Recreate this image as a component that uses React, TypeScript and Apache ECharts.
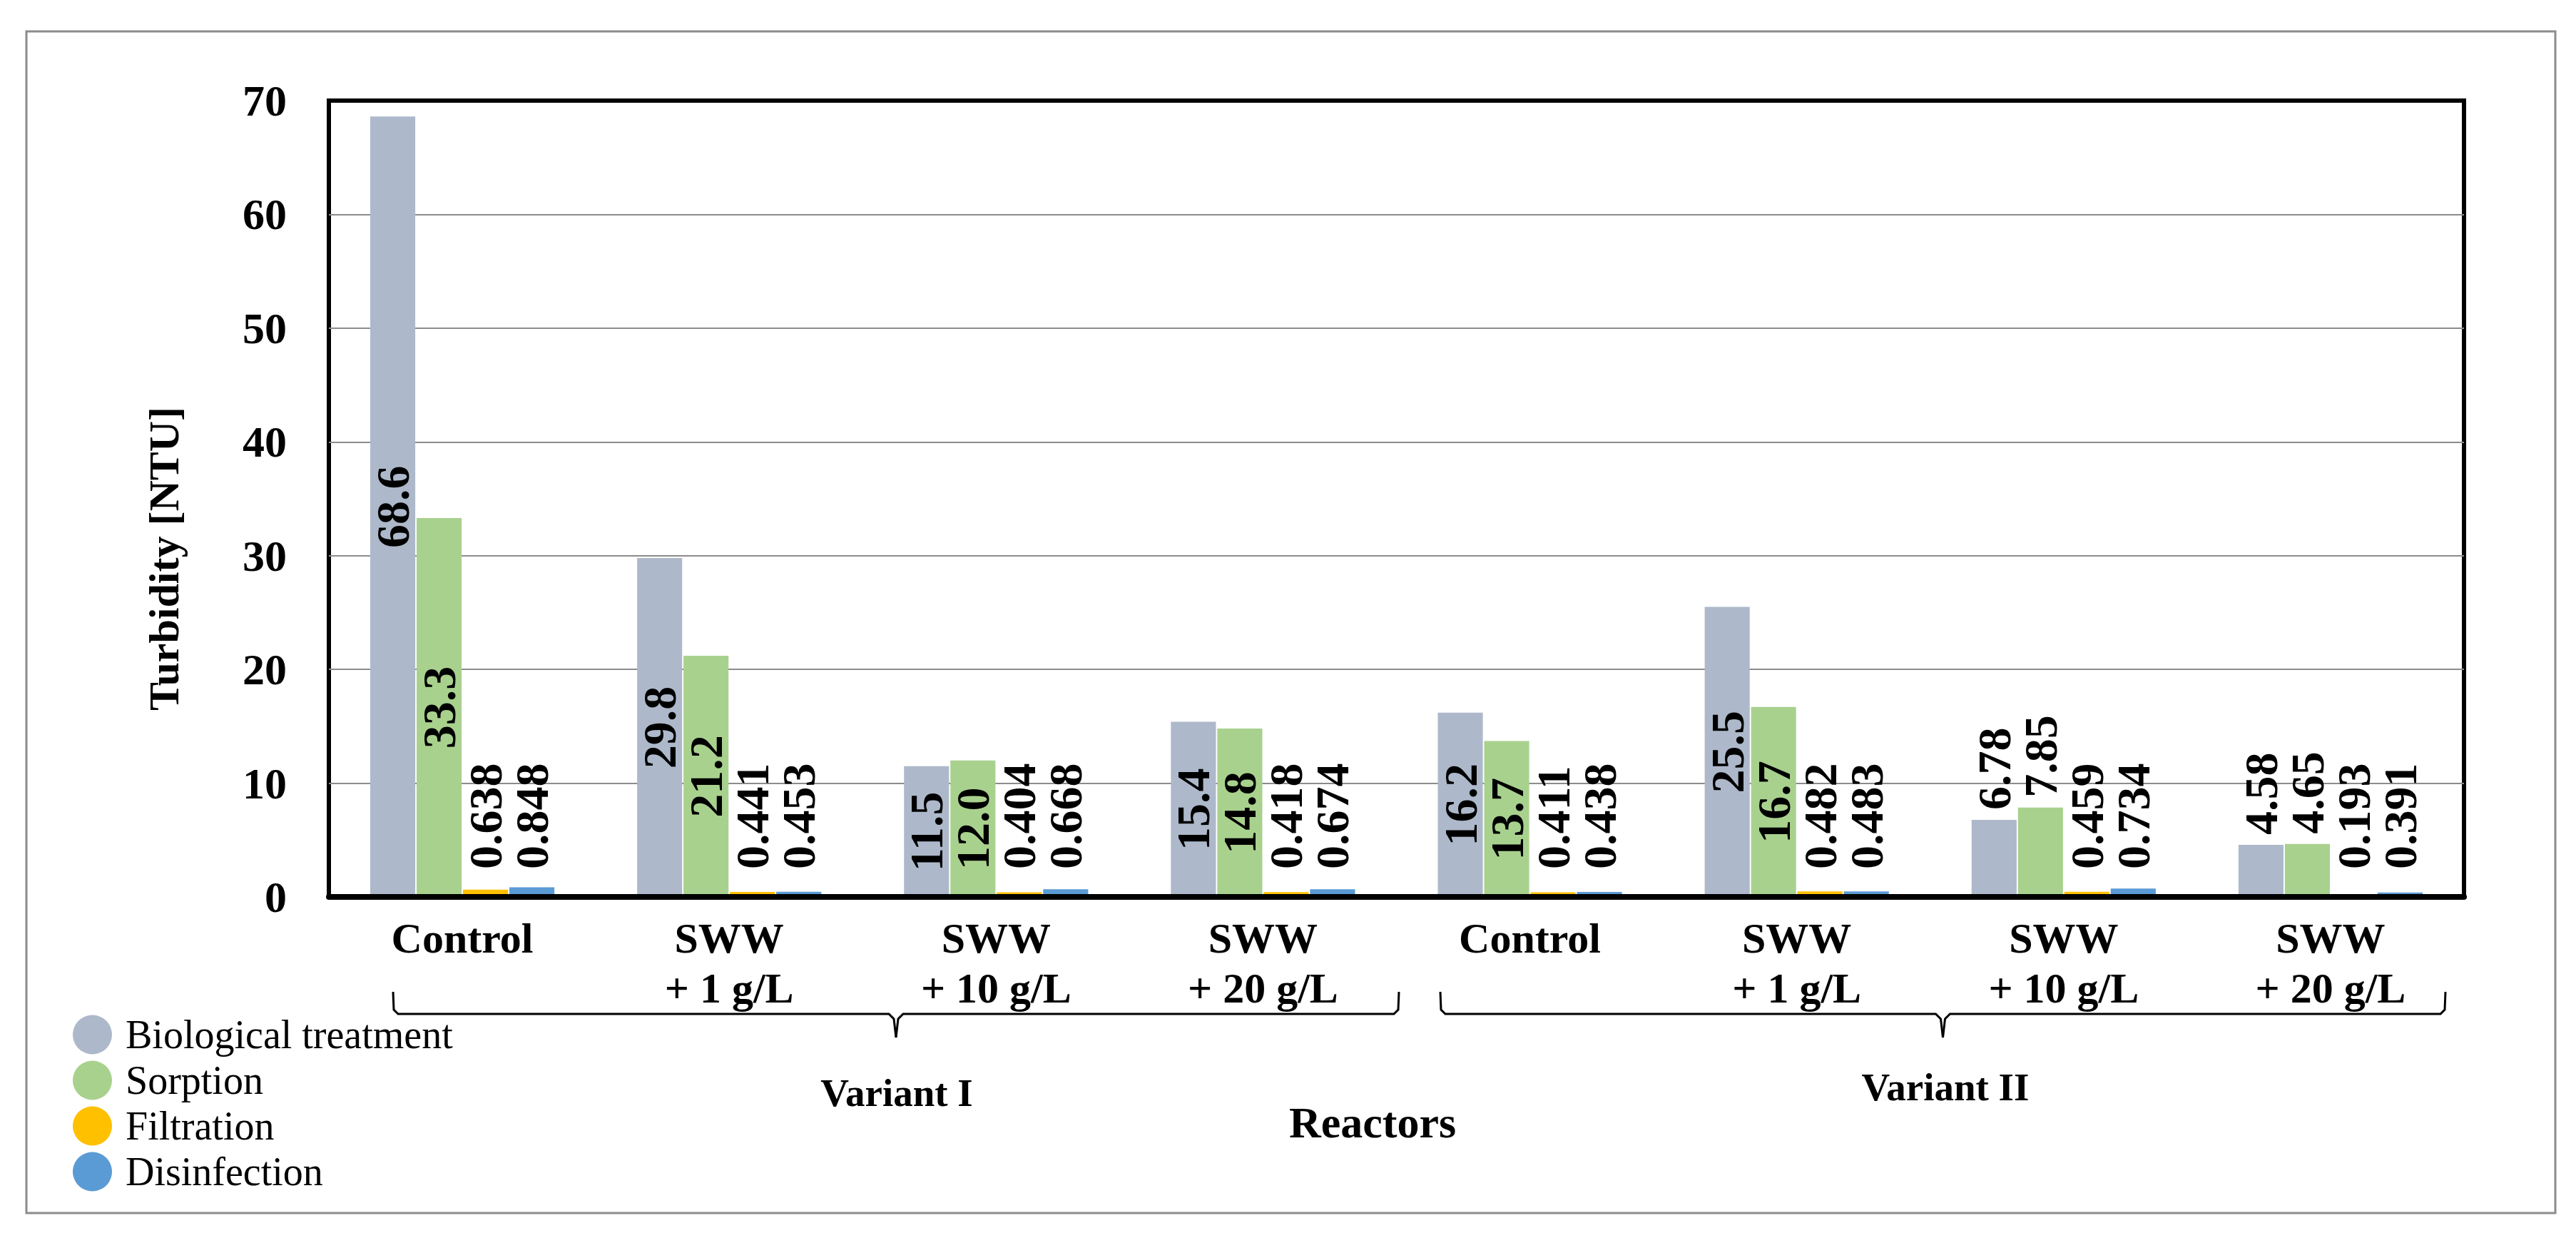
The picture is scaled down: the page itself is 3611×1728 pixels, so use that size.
import React, { useEffect, useRef } from 'react';
import * as echarts from 'echarts';

// Reactor categories (two variants of four reactors each)
const categories = [
  'Control',
  'SWW\n+ 1 g/L',
  'SWW\n+ 10 g/L',
  'SWW\n+ 20 g/L',
  'Control',
  'SWW\n+ 1 g/L',
  'SWW\n+ 10 g/L',
  'SWW\n+ 20 g/L',
];

const seriesNames = ['Biological treatment', 'Sorption', 'Filtration', 'Disinfection'];

// Turbidity after each treatment stage [NTU]
const biological = [68.6, 29.8, 11.5, 15.4, 16.2, 25.5, 6.78, 4.58];
const sorption = [33.3, 21.2, 12.0, 14.8, 13.7, 16.7, 7.85, 4.65];
const filtration = [0.638, 0.441, 0.404, 0.418, 0.411, 0.482, 0.459, 0.193];
const disinfection = [0.848, 0.453, 0.668, 0.674, 0.438, 0.483, 0.734, 0.391];

const yMin = 0;
const yMax = 70;
const yStep = 10;

const variantLabels = ['Variant I', 'Variant II'];
const xTitle = 'Reactors';
const yTitle = 'Turbidity [NTU]';

const colors = ['#ADB9CA', '#A9D18E', '#FFC000', '#5B9BD5'];
const FONT = 'Liberation Serif';

const W = 3611;
const H = 1728;

// plot rectangle in pixels
const PLOT_LEFT = 461;
const PLOT_TOP = 141;
const PLOT_RIGHT = 3454;
const PLOT_BOTTOM = 1257;

const fmt = (p: any) => Number(p.value).toPrecision(3);

const labelText = {
  color: '#000',
  fontFamily: FONT,
  fontWeight: 'bold' as const,
  fontSize: 66,
  textBorderWidth: 0,
  formatter: fmt,
};

const centred = {
  show: true,
  position: 'inside',
  rotate: 90,
  align: 'center',
  verticalAlign: 'middle',
  ...labelText,
};

const aboveBar = {
  show: true,
  position: 'top',
  distance: 14,
  rotate: 90,
  align: 'left',
  verticalAlign: 'middle',
  ...labelText,
};

const fromBase = {
  show: true,
  position: 'insideBottom',
  distance: 39,
  rotate: 90,
  align: 'left',
  verticalAlign: 'middle',
  ...labelText,
};

// tall bars carry their label in the middle, short ones above the bar
const withLabels = (values: number[]) =>
  values.map((v) => (v < 10 ? { value: v, label: aboveBar } : { value: v }));

function bracket(x0: number, x1: number) {
  const mid = (x0 + x1) / 2;
  const yTop = 1390;
  const yLine = 1421;
  const yTip = 1454;
  const style = { stroke: '#000', lineWidth: 3, fill: 'none' };
  return [
    {
      type: 'polyline',
      silent: true,
      shape: {
        points: [
          [x0, yTop],
          [x0 + 1, yLine - 6],
          [x0 + 7, yLine],
          [mid - 10, yLine],
          [mid - 3, yLine + 7],
          [mid, yTip],
        ],
      },
      style,
    },
    {
      type: 'polyline',
      silent: true,
      shape: {
        points: [
          [x1, yTop],
          [x1 - 1, yLine - 6],
          [x1 - 7, yLine],
          [mid + 10, yLine],
          [mid + 3, yLine + 7],
          [mid, yTip],
        ],
      },
      style,
    },
  ];
}

function textEl(text: string, x: number, y: number, size: number, bold: boolean, rotation = 0) {
  return {
    type: 'text',
    x,
    y,
    rotation,
    silent: true,
    style: {
      text,
      x: 0,
      y: 0,
      fill: '#000',
      fontFamily: FONT,
      fontSize: size,
      fontWeight: bold ? 'bold' : 'normal',
      align: 'center',
      verticalAlign: 'middle',
    },
  };
}

export default function App() {
  const ref = useRef<HTMLDivElement>(null);

  useEffect(() => {
    if (!ref.current) return;
    const chart = echarts.init(ref.current, undefined, { renderer: 'svg' });

    const seriesValues = [biological, sorption, filtration, disinfection];

    const series = seriesValues.map((vals, i) => ({
      name: seriesNames[i],
      type: 'bar',
      barGap: '3%',
      barCategoryGap: '31%',
      itemStyle: { color: colors[i] },
      label: i < 2 ? centred : fromBase,
      data: i < 2 ? withLabels(vals) : vals,
      z: 2,
    }));

    chart.setOption({
      animation: false,
      backgroundColor: '#fff',
      color: colors,
      grid: {
        left: PLOT_LEFT,
        top: PLOT_TOP,
        right: W - PLOT_RIGHT,
        bottom: H - PLOT_BOTTOM,
        show: true,
        borderColor: '#000',
        borderWidth: 6,
        containLabel: false,
      },
      legend: {
        orient: 'vertical',
        left: 97,
        top: 1417,
        icon: 'circle',
        itemWidth: 55,
        itemHeight: 55,
        itemGap: 8,
        data: seriesNames,
        textStyle: {
          fontFamily: FONT,
          fontSize: 56,
          color: '#000',
          lineHeight: 55,
          padding: [0, 0, 0, 14],
        },
      },
      xAxis: {
        type: 'category',
        data: categories,
        z: 5,
        axisLine: { show: true, lineStyle: { color: '#000', width: 8 } },
        axisTick: { show: false },
        axisLabel: {
          interval: 0,
          margin: 23,
          color: '#000',
          fontFamily: FONT,
          fontWeight: 'bold',
          fontSize: 60,
          lineHeight: 70,
          verticalAlign: 'top',
        },
        splitLine: { show: false },
      },
      yAxis: {
        type: 'value',
        min: yMin,
        max: yMax,
        interval: yStep,
        axisLine: { show: false },
        axisTick: { show: false },
        axisLabel: {
          margin: 59,
          color: '#000',
          fontFamily: FONT,
          fontWeight: 'bold',
          fontSize: 62,
        },
        splitLine: {
          show: true,
          showMinLine: false,
          showMaxLine: false,
          lineStyle: { color: '#8c8c8c', width: 2 },
        },
      },
      series,
      graphic: [
        {
          type: 'rect',
          silent: true,
          z: -10,
          shape: { x: 37, y: 44, width: 3545, height: 1656 },
          style: { fill: 'none', stroke: '#8c8c8c', lineWidth: 3 },
        },
        textEl(yTitle, 230, 783, 60, true, Math.PI / 2),
        ...bracket(551, 1961),
        ...bracket(2019, 3428),
        textEl(variantLabels[0], 1257, 1531, 55, true),
        textEl(variantLabels[1], 2727, 1523, 55, true),
        textEl(xTitle, 1924, 1573, 62, true),
      ],
    });

    return () => chart.dispose();
  }, []);

  return (
    <div
      ref={ref}
      style={{ position: 'fixed', left: 0, top: 0, width: W, height: H, background: '#fff' }}
    />
  );
}
